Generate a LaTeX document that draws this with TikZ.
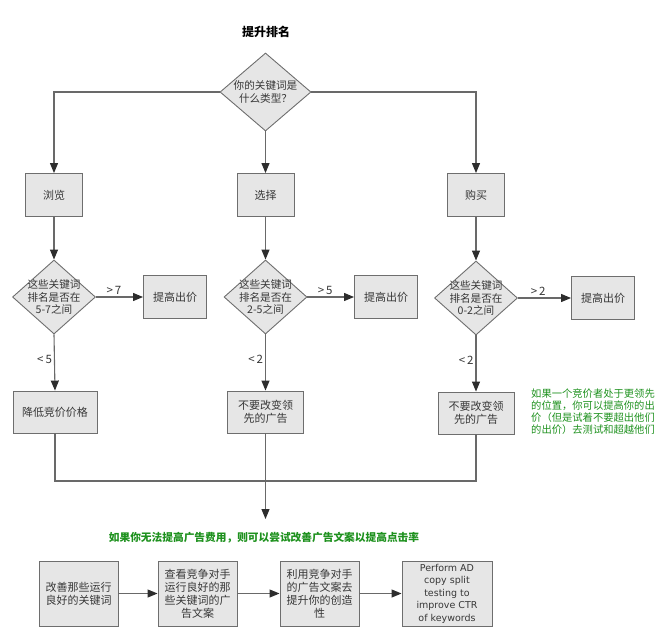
\documentclass[tikz,border=0pt]{standalone}
\usepackage{fontspec}
\setmainfont{Noto Sans CJK SC}
\newfontfamily\latinsans{DejaVu Sans}
\usepackage{tikz}
\usetikzlibrary{shapes.geometric}
\usetikzlibrary{arrows.meta}
\definecolor{boxfill}{RGB}{230,230,230}
\definecolor{boxline}{RGB}{110,110,110}
\definecolor{linegray}{RGB}{105,105,105}
\definecolor{tipgray}{RGB}{45,45,45}
\definecolor{txtgray}{RGB}{55,55,55}
\definecolor{notegreen}{RGB}{30,145,30}

\begin{document}
\begin{tikzpicture}[x=1pt, y=-1pt,
        box/.style={rectangle, draw=boxline, fill=boxfill, line width=0.9pt,
                    text=txtgray, align=center, inner sep=1pt,
                    font=\fontsize{11}{13}\selectfont},
        decision/.style={diamond, draw=boxline, fill=boxfill, line width=0.9pt,
                    text=txtgray, align=center, inner sep=-4pt,
                    minimum width=83pt, minimum height=74pt,
                    font=\fontsize{10.6}{12.5}\selectfont},
        link/.style={draw=linegray, line width=1.1pt,
                    -{Triangle[length=10pt,width=8pt,color=tipgray]}},
        lbl/.style={text=txtgray, inner sep=2pt, font=\fontsize{11.5}{13}\selectfont},
        note/.style={text=notegreen, inner sep=0pt}
                            ]
        \useasboundingbox (0,0) rectangle (662,630);
        % title and first question
        \node[font=\fontsize{12}{14}\selectfont\bfseries] (title) at (266,32) {提升排名};
        \node[decision, minimum width=91pt, minimum height=78pt] (kind) at (265.5,92) {你的关键词是\\什么类型？};
        % keyword types
        \node[box, minimum width=57pt, minimum height=43pt] (browse) at (54,195) {浏览};
        \node[box, minimum width=57pt, minimum height=43pt] (choose) at (265.5,195) {选择};
        \node[box, minimum width=57pt, minimum height=43pt] (buy) at (476,195) {购买};
        \draw[link] (kind.west) -| (browse.north);
        \draw[link] (kind.south) -- (choose.north);
        \draw[link] (kind.east) -| (buy.north);
        % ranking checks
        \node[decision] (rank1) at (54,297) {这些关键词\\排名是否在\\5-7之间};
        \node[decision] (rank2) at (265.5,297) {这些关键词\\排名是否在\\2-5之间};
        \node[decision] (rank3) at (476,298) {这些关键词\\排名是否在\\0-2之间};
        \draw[link] (browse) -- (rank1);
        \draw[link] (choose) -- (rank2);
        \draw[link] (buy) -- (rank3);
        % raise the bid
        \node[box, minimum width=63pt, minimum height=43pt] (raise1) at (175,297) {提高出价};
        \node[box, minimum width=63pt, minimum height=43pt] (raise2) at (386,297) {提高出价};
        \node[box, minimum width=63pt, minimum height=43pt] (raise3) at (603,298) {提高出价};
        \draw[link] (rank1.east) -- node[lbl, above, pos=0.38] {>\,7} (raise1.west);
        \draw[link] (rank2.east) -- node[lbl, above, pos=0.38] {>\,5} (raise2.west);
        \draw[link] (rank3.east) -- node[lbl, above, pos=0.38] {>\,2} (raise3.west);
        % lower rows
        \node[box, minimum width=84pt, minimum height=42pt] (lower1) at (55,412) {降低竞价价格};
        \node[box, minimum width=76pt, minimum height=42pt] (lower2) at (265.5,412) {不要改变领\\先的广告};
        \node[box, minimum width=76pt, minimum height=42pt] (lower3) at (476,413) {不要改变领\\先的广告};
        \draw[link] (rank1.south) -- node[lbl, left, pos=0.45] {<\,5} (lower1.north);
        \draw[link] (rank2.south) -- node[lbl, left, pos=0.45] {<\,2} (lower2.north);
        \draw[link] (rank3.south) -- node[lbl, left, pos=0.45] {<\,2} (lower3.north);
        \node[note, anchor=west, align=left, font=\fontsize{10.3}{12}\selectfont] (advice) at (531,412)
            {如果一个竞价者处于更领先\\的位置，你可以提高你的出\\价（但是试着不要超出他们\\的出价）去测试和超越他们};
        %
        \coordinate (merge) at (265.5,481);
        \coordinate (drop) at (265.5,519);
        \draw[draw=linegray, line width=1.1pt] (lower1.south) |- (merge) -| (lower3.south);
        \draw[link] (lower2.south) -- (drop);
        \node[note, font=\fontsize{10.7}{13}\selectfont\bfseries] (hint) at (264,538)
            {如果你无法提高广告费用，则可以尝试改善广告文案以提高点击率};
        % ad copy steps
        \node[box, minimum width=79pt, minimum height=65pt] (fix) at (78.5,593.5) {改善那些运行\\良好的关键词};
        \node[box, minimum width=79pt, minimum height=65pt] (spy) at (197.5,593.5) {查看竞争对手\\运行良好的那\\些关键词的广\\告文案};
        \node[box, minimum width=79pt, minimum height=65pt] (reuse) at (319.5,593.5) {利用竞争对手\\的广告文案去\\提升你的创造\\性};
        \node[box, minimum width=90pt, minimum height=65pt, inner sep=0pt,
              font=\latinsans\fontsize{9.5}{12.5}\selectfont] (split) at (447,593.5)
            {Perform AD\\copy split\\testing to\\improve CTR\\of keywords};
        \draw[link] (fix.east) -- (spy.west);
        \draw[link] (spy.east) -- (reuse.west);
        \draw[link] (reuse.east) -- (split.west);
    \end{tikzpicture}
\end{document}
